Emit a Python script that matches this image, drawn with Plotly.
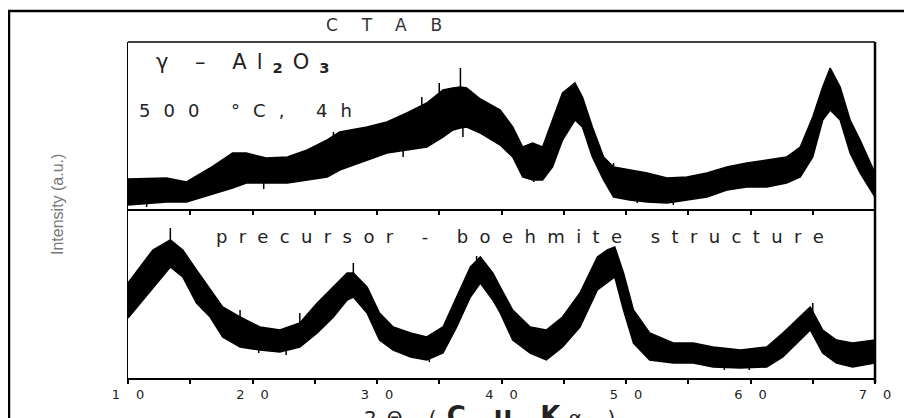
import plotly.graph_objects as go

# ---- data (intensity in arbitrary units) ----
top_theta = [10.0, 13.1, 14.7, 16.6, 18.4, 19.5, 21.1, 22.8, 24.4, 26.0,
             27.0, 29.2, 30.8, 32.4, 34.0, 35.3, 36.1, 36.7, 37.2, 38.3,
             39.9, 40.9, 41.7, 42.5, 43.3, 44.1, 44.9, 45.9, 46.5, 47.3,
             48.2, 49.0, 50.3, 51.7, 53.3, 54.9, 56.5, 58.1, 59.7, 61.3,
             62.9, 64.0, 65.0, 65.8, 66.4, 67.2, 68.0, 68.8, 70.0]
top_upper = [30, 31, 27, 41, 56, 56, 51, 52, 59, 69,
             77, 82, 87, 96, 106, 119, 121, 122, 121, 110,
             99, 82, 62, 66, 62, 89, 116, 126, 112, 82,
             52, 42, 39, 36, 31, 32, 36, 42, 46, 49,
             52, 62, 92, 122, 141, 122, 89, 69, 36]
top_lower = [4, 7, 7, 14, 21, 26, 26, 26, 29, 32,
             39, 49, 56, 59, 62, 72, 79, 81, 82, 76,
             64, 52, 32, 29, 29, 42, 69, 89, 82, 52,
             29, 12, 9, 7, 6, 9, 12, 19, 22, 22,
             26, 32, 52, 89, 99, 89, 56, 36, 12]

bot_theta = [10.0, 11.0, 12.0, 13.4, 14.4, 15.5, 16.6, 17.6, 19.0, 20.6,
             22.2, 23.8, 25.2, 26.5, 27.6, 28.1, 29.2, 30.2, 31.3, 32.7,
             34.0, 35.3, 36.4, 37.5, 38.3, 39.3, 39.9, 40.9, 42.3, 43.6,
             44.9, 46.3, 47.7, 48.5, 49.1, 49.8, 50.6, 51.9, 53.8, 55.4,
             57.0, 59.2, 61.3, 62.6, 63.7, 64.8, 65.8, 66.9, 68.2, 70.0]
bot_upper = [95, 111, 128, 138, 128, 108, 88, 71, 61, 51,
             48, 55, 75, 91, 105, 105, 91, 65, 51, 45,
             41, 51, 81, 111, 121, 105, 91, 68, 51, 48,
             61, 85, 121, 128, 131, 105, 68, 45, 35, 35,
             31, 28, 31, 45, 58, 71, 48, 38, 35, 38]
bot_lower = [60, 75, 91, 111, 101, 75, 61, 41, 31, 28,
             26, 31, 45, 61, 78, 81, 65, 38, 28, 21,
             18, 25, 51, 81, 95, 78, 65, 38, 25, 18,
             31, 51, 88, 95, 101, 68, 35, 18, 15, 15,
             11, 10, 11, 21, 35, 48, 25, 15, 11, 15]

# isolated noise spikes sticking out of the bands (theta, from, to)
top_spike_theta = [26.5, 33.6, 35.0, 36.7, 49.0, 63.5,
                   11.5, 20.9, 32.1, 36.9, 42.6, 50.9, 53.8]
top_spike_from = [65, 90, 100, 110, 35, 45,
                  12, 30, 62, 85, 35, 15, 12]
top_spike_to = [77, 112, 126, 141, 46, 56,
                2, 20, 52, 72, 27, 6, 4]
bot_spike_theta = [13.4, 19.0, 23.8, 28.1, 38.0, 55.7, 65.0,
                   20.5, 22.7, 34.2, 57.9, 59.9, 68.2]
bot_spike_from = [120, 50, 45, 95, 105, 25, 60,
                  35, 32, 25, 18, 18, 20]
bot_spike_to = [150, 68, 65, 115, 122, 35, 75,
                25, 23, 16, 8, 8, 11]

tick_values = [10, 20, 30, 40, 50, 60, 70]
tick_labels = ["10", "20", "30", "40", "50", "60", "70"]

# ---- figure (page has an 8px body margin, so offset everything by 8px) ----
OFF = 8
W, H = 912 - OFF, 418 - OFF
def px(x):
    return (x - OFF) / W
def py(y):
    return 1 - (y - OFF) / H

L, R = px(128), px(875)
TOP, MID, BOT = py(42), py(209), py(378)
FONT = "DejaVu Sans, Liberation Sans, Arial, sans-serif"

fig = go.Figure()

def band(theta, low, up, xa, ya):
    fig.add_trace(go.Scatter(x=theta, y=low, mode="lines", xaxis=xa, yaxis=ya,
                             line=dict(color="black", width=1.5), hoverinfo="skip"))
    fig.add_trace(go.Scatter(x=theta, y=up, mode="lines", xaxis=xa, yaxis=ya,
                             fill="tonexty", fillcolor="black",
                             line=dict(color="black", width=1.5), hoverinfo="skip"))

def spikes(theta, a_vals, b_vals, xa, ya):
    xs, ys = [], []
    for t, a, b in zip(theta, a_vals, b_vals):
        xs += [t, t, None]
        ys += [a, b, None]
    fig.add_trace(go.Scatter(x=xs, y=ys, mode="lines", xaxis=xa, yaxis=ya,
                             line=dict(color="black", width=1.5), hoverinfo="skip"))

band(top_theta, top_lower, top_upper, "x", "y")
spikes(top_spike_theta, top_spike_from, top_spike_to, "x", "y")
band(bot_theta, bot_lower, bot_upper, "x2", "y2")
spikes(bot_spike_theta, bot_spike_from, bot_spike_to, "x2", "y2")

def ls(s, sp):
    """letter-spaced text, without trailing spacing after the last character"""
    return f'<span style="letter-spacing:{sp}px">{s[:-1]}</span>{s[-1]}'

fig.update_layout(
    width=W, height=H,
    margin=dict(l=0, r=0, t=0, b=0, pad=0),
    paper_bgcolor="white", plot_bgcolor="white",
    showlegend=False,
    font=dict(family=FONT, color="#222"),
    xaxis=dict(domain=[L, R], anchor="y", range=[10, 70], showgrid=False, zeroline=False,
               automargin=False,
               showline=True, linecolor="black", linewidth=1.5,
               ticks="outside", tickvals=[15, 20, 25, 30, 35, 40, 45, 50, 55, 60, 65],
               ticklen=4, tickwidth=1.5, tickcolor="black", showticklabels=False),
    yaxis=dict(domain=[MID, TOP], anchor="x", range=[0, 167], showgrid=False, zeroline=False,
               automargin=False,
               showline=True, linecolor="black", linewidth=1.2, ticks="", showticklabels=False),
    xaxis2=dict(domain=[L, R], anchor="y2", range=[10, 70], showgrid=False, zeroline=False,
                automargin=False,
                showline=True, linecolor="black", linewidth=1.5,
                ticks="outside", tickvals=tick_values,
                ticktext=[ls(t, 16) for t in tick_labels],
                ticklen=4, tickwidth=1.5, tickcolor="black",
                minor=dict(tickvals=[15, 25, 35, 45, 55, 65], ticks="outside", ticklen=4,
                           tickwidth=1.5, tickcolor="black"),
                tickfont=dict(size=13, color="#222", family=FONT)),
    yaxis2=dict(domain=[BOT, MID], anchor="x2", range=[0, 169], showgrid=False, zeroline=False,
                automargin=False,
                showline=True, linecolor="black", linewidth=1.2, ticks="", showticklabels=False),
)

shapes = [
    # outer frame (runs off the right and bottom edges)
    dict(type="rect", xref="paper", yref="paper", x0=px(9), x1=1.05, y0=-0.08, y1=py(11),
         line=dict(color="black", width=2.5)),
    # top spine
    dict(type="line", xref="paper", yref="paper", x0=L, x1=R, y0=TOP, y1=TOP,
         line=dict(color="black", width=1.5)),
    # right spine
    dict(type="line", xref="paper", yref="paper", x0=R, x1=R, y0=py(383), y1=TOP,
         line=dict(color="black", width=2.5)),
]
fig.update_layout(shapes=shapes)

gamma_txt = ('<span style="letter-spacing:10px">γ – Al<sub><b>2</b></sub>O</span>'
             '<sub><b>3</b></sub>')
xtitle = ('<span style="letter-spacing:10px">2Θ (</span>'
          '<b><span style="font-size:26px;letter-spacing:28px">Cu</span>'
          '<span style="font-size:26px;letter-spacing:8px">K</span></b>'
          '<span style="letter-spacing:26px">α</span>)')

ann = [
    dict(text=ls("CTAB", 24), x=px(324), y=py(25), xanchor="left",
         font=dict(size=17, color="#333")),
    dict(text=gamma_txt, x=px(154), y=py(63), xanchor="left",
         font=dict(size=21, color="#222")),
    dict(text=ls("500 °C, 4h", 13), x=px(137), y=py(110), xanchor="left",
         font=dict(size=18, color="#222")),
    dict(text=ls("precursor - boehmite structure", 11.4), x=px(214), y=py(236),
         xanchor="left", font=dict(size=18, color="#222")),
    dict(text="Intensity (a.u.)", x=px(57), y=py(205), textangle=-90,
         font=dict(size=16, color="#777",
                   family="Liberation Sans Narrow, Arial Narrow, Liberation Sans, sans-serif")),
    dict(text=xtitle, x=px(362), y=py(399), xanchor="left", yanchor="top",
         font=dict(size=20, color="#222")),
]
for a in ann:
    a.setdefault("xref", "paper")
    a.setdefault("yref", "paper")
    a.setdefault("showarrow", False)
    a.setdefault("xanchor", "center")
    a.setdefault("yanchor", "middle")
fig.update_layout(annotations=ann)

fig.write_html("out.html")
